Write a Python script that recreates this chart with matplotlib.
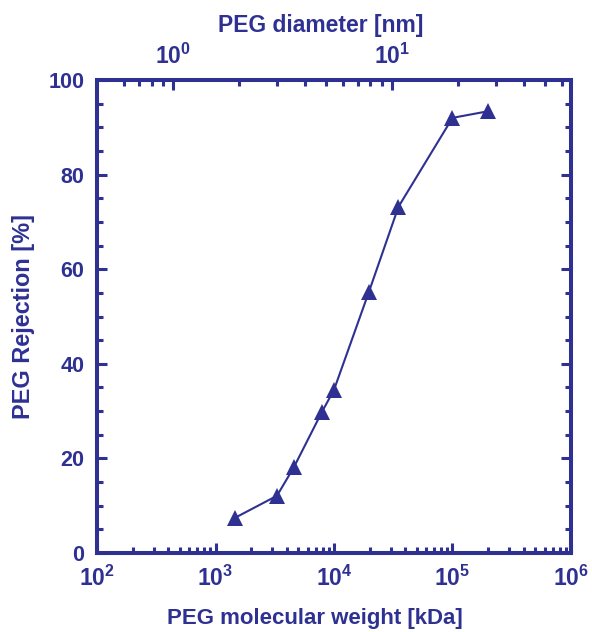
import matplotlib
matplotlib.use("Agg")
import matplotlib.pyplot as plt
from matplotlib.ticker import FixedLocator, FuncFormatter, NullFormatter, MultipleLocator
import numpy as np

# Data
mw_kda = [1450, 3300, 4600, 7900, 10000, 19700, 35000, 100000, 200000]
rejection = [7.4, 12.1, 18.2, 29.8, 34.5, 55.2, 73.2, 92.0, 93.4]

x_major = [1e2, 1e3, 1e4, 1e5, 1e6]
top_major = [1, 10]
top_minor = [0.6, 0.7, 0.8, 0.9, 2, 3, 4, 5, 6, 7, 8, 9, 20, 30, 40, 50, 60]

color = "#2E3192"
plt.rcParams['font.family'] = ['Liberation Sans', 'DejaVu Sans']
plt.rcParams['font.weight'] = 'bold'
plt.rcParams['mathtext.fontset'] = 'custom'
plt.rcParams['mathtext.rm'] = 'Liberation Sans:bold'
plt.rcParams['mathtext.bf'] = 'Liberation Sans:bold'
plt.rcParams['mathtext.it'] = 'Liberation Sans:bold'

fig = plt.figure(figsize=(5.92, 6.32), dpi=100)
ax = fig.add_axes([0.1639, 0.125, 0.8006, 0.7484])

ax.plot(mw_kda, rejection, color=color, lw=1.5, marker='^', markersize=11.5,
        markeredgewidth=0, zorder=3)
ax.set_xscale('log')
ax.set_xlim(1e2, 1e6)
ax.set_ylim(0, 100)

def fmt(v, pos):
    e = int(round(np.log10(v)))
    return r'$\mathbf{10^{%d}}$' % e

ax.xaxis.set_major_locator(FixedLocator(x_major))
ax.xaxis.set_major_formatter(FuncFormatter(fmt))
minors = [m * 10**d for d in range(2, 6) for m in range(2, 10)]
ax.xaxis.set_minor_locator(FixedLocator(minors))
ax.xaxis.set_minor_formatter(NullFormatter())
ax.yaxis.set_major_locator(MultipleLocator(20))
ax.yaxis.set_minor_locator(MultipleLocator(5))

for s in ax.spines.values():
    s.set_color(color)
    s.set_linewidth(2.9)

ax.tick_params(axis='x', which='both', direction='in', top=False, bottom=True,
               colors=color, labelsize=16.5, pad=9)
ax.tick_params(axis='y', which='both', direction='in', left=True, right=True,
               colors=color, labelsize=15.5, pad=9)
ax.tick_params(which='major', length=7, width=2.2)
ax.tick_params(which='minor', length=4, width=2.2)

ax.set_xlabel('PEG molecular weight [kDa]', color=color, fontsize=16,
              fontweight='bold')
ax.xaxis.set_label_coords(0.46, -0.138)
ax.xaxis.label.set_va('center')
ax.set_ylabel('PEG Rejection [%]', color=color, fontsize=16.9,
              fontweight='bold')
ax.yaxis.set_label_coords(-0.156, 0.5)
ax.yaxis.label.set_va('center')

# top axis: PEG diameter
ax2 = ax.twiny()
ax2.set_xscale('log')
ax2.set_xlim(0.451, 65.9)
ax2.xaxis.set_major_locator(FixedLocator(top_major))
ax2.xaxis.set_major_formatter(FuncFormatter(fmt))
ax2.xaxis.set_minor_locator(FixedLocator(top_minor))
ax2.xaxis.set_minor_formatter(NullFormatter())
ax2.tick_params(axis='x', which='both', direction='in', colors=color,
                labelsize=16.5, pad=8)
ax2.tick_params(which='major', length=7, width=2.2)
ax2.tick_params(which='minor', length=4, width=2.2)
for s in ax2.spines.values():
    s.set_visible(False)
ax2.set_xlabel('PEG diameter [nm]', color=color, fontsize=16.5,
               fontweight='bold')
ax2.xaxis.set_label_coords(0.4726, 1.115)
ax2.xaxis.label.set_va('center')

fig.savefig('out.png', dpi=100)
